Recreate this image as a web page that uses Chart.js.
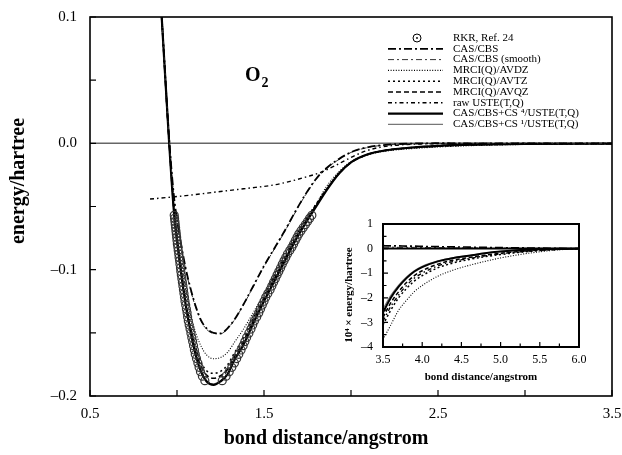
<!DOCTYPE html>
<html>
<head>
<meta charset="utf-8">
<script src="https://cdn.jsdelivr.net/npm/chart.js@4.4.0/dist/chart.umd.min.js"></script>
<style>
  html, body { margin: 0; padding: 0; background: #fff; }
  #wrap { position: relative; width: 622px; height: 455px; }
  #main { position: absolute; left: 0; top: 0; }
  #inset { position: absolute; left: 330px; top: 212px; }
</style>
</head>
<body>
<div id="wrap">
  <canvas id="main" width="622" height="455"></canvas>
  <canvas id="inset" width="260" height="175"></canvas>
</div>
<script>
// RKR turning points (hartree / angstrom)
const rkrEnergy = [-0.1879, -0.1843, -0.1808, -0.1773, -0.1738, -0.1704, -0.1670, -0.1636, -0.1602, -0.1569, -0.1536, -0.1503, -0.1470, -0.1438, -0.1406, -0.1374, -0.1342, -0.1311, -0.1280, -0.1250, -0.1219, -0.1189, -0.1159, -0.1130, -0.1100, -0.1072, -0.1043, -0.1015, -0.0986, -0.0958, -0.0930, -0.0903, -0.0876, -0.0849, -0.0822, -0.0796, -0.0770, -0.0744, -0.0718, -0.0693, -0.0668, -0.0643, -0.0618, -0.0594, -0.0570];
const rkrInner = [1.16, 1.146, 1.135, 1.127, 1.12, 1.112, 1.105, 1.10, 1.095, 1.09, 1.085, 1.08, 1.075, 1.07, 1.065, 1.061, 1.058, 1.054, 1.05, 1.046, 1.043, 1.04, 1.037, 1.034, 1.031, 1.028, 1.025, 1.022, 1.02, 1.017, 1.015, 1.012, 1.01, 1.007, 1.005, 1.002, 1.0, 0.998, 0.996, 0.994, 0.992, 0.99, 0.988, 0.986, 0.984];
const rkrOuter = [1.26, 1.282, 1.30, 1.315, 1.33, 1.343, 1.355, 1.368, 1.38, 1.39, 1.40, 1.413, 1.425, 1.435, 1.445, 1.458, 1.47, 1.48, 1.49, 1.50, 1.51, 1.522, 1.535, 1.545, 1.555, 1.565, 1.575, 1.585, 1.595, 1.605, 1.615, 1.625, 1.635, 1.648, 1.66, 1.67, 1.68, 1.69, 1.70, 1.712, 1.725, 1.738, 1.75, 1.762, 1.775];

// bond distances for the potential curves
const bondX = [0.90, 0.912, 0.955, 0.984, 1.00, 1.02, 1.05, 1.08, 1.11, 1.14, 1.17, 1.21, 1.25, 1.29, 1.33, 1.38, 1.44, 1.50, 1.56, 1.62, 1.68, 1.74, 1.80, 1.86, 1.93, 2.00, 2.10, 2.20, 2.35, 2.50, 2.70, 3.00, 3.50];

const casCbs = [0.125, 0.100, 0.003, -0.044, -0.060, -0.077, -0.099, -0.116, -0.130, -0.1405, -0.1465, -0.150, -0.1505, -0.1465, -0.1395, -0.128, -0.1125, -0.097, -0.083, -0.069, -0.054, -0.040, -0.028, -0.0195, -0.0125, -0.0070, -0.0030, -0.0012, -0.0002, 0.00005, 0.00003, 0.00002, 0.00001];
const casCbsSmooth = [0.125, 0.100, 0.003, -0.045, -0.061, -0.078, -0.100, -0.117, -0.131, -0.1412, -0.1472, -0.1505, -0.1508, -0.1468, -0.1398, -0.1284, -0.1130, -0.0976, -0.0836, -0.0696, -0.0546, -0.0405, -0.0285, -0.0199, -0.0128, -0.0072, -0.0032, -0.0013, -0.0003, 0.00003, 0.00002, 0.00001, 0.00001];
const mrciAvdz = [0.125, 0.100, 0.002, -0.053, -0.072, -0.091, -0.116, -0.1365, -0.151, -0.161, -0.1675, -0.1705, -0.1695, -0.1655, -0.1575, -0.1475, -0.1335, -0.119, -0.1035, -0.088, -0.0735, -0.060, -0.048, -0.034, -0.0225, -0.0145, -0.0090, -0.0062, -0.0042, -0.0029, -0.0018, -0.0009, -0.00037];
const mrciAvtz = [0.125, 0.100, 0.001, -0.055, -0.075, -0.096, -0.124, -0.146, -0.163, -0.174, -0.1800, -0.1820, -0.1805, -0.1755, -0.166, -0.1545, -0.1375, -0.121, -0.1055, -0.0895, -0.0740, -0.0605, -0.0480, -0.0360, -0.0240, -0.0152, -0.0088, -0.0057, -0.0035, -0.0023, -0.0013, -0.0006, -0.00031];
const mrciAvqz = [0.125, 0.100, 0.000, -0.056, -0.076, -0.098, -0.127, -0.149, -0.166, -0.177, -0.1835, -0.1860, -0.1840, -0.179, -0.1690, -0.1575, -0.1395, -0.1230, -0.1070, -0.0910, -0.0755, -0.0618, -0.0490, -0.0365, -0.0240, -0.0152, -0.0087, -0.0056, -0.0034, -0.0021, -0.0012, -0.0005, -0.00028];
const csUste4 = [0.125, 0.100, 0.000, -0.057, -0.077, -0.099, -0.128, -0.1505, -0.169, -0.1815, -0.1885, -0.1912, -0.1885, -0.183, -0.1715, -0.160, -0.142, -0.125, -0.109, -0.093, -0.077, -0.063, -0.050, -0.037, -0.024, -0.015, -0.0085, -0.0055, -0.0033, -0.0020, -0.0011, -0.0005, -0.00026];
const csUste1 = [0.125, 0.100, 0.001, -0.056, -0.076, -0.098, -0.127, -0.1495, -0.168, -0.1805, -0.1878, -0.1905, -0.1880, -0.1825, -0.171, -0.1595, -0.1415, -0.1245, -0.1085, -0.0925, -0.0767, -0.0627, -0.0497, -0.0368, -0.0238, -0.0149, -0.0084, -0.0054, -0.0032, -0.0019, -0.0010, -0.0005, -0.00025];

const usteX = [0.845, 0.95, 1.05, 1.15, 1.25, 1.35, 1.45, 1.55, 1.65, 1.75, 1.82, 1.90, 2.00, 2.07, 2.15, 2.25, 2.40, 2.70, 3.00, 3.50];
const rawUste = [-0.0441, -0.0428, -0.0414, -0.0398, -0.0381, -0.0365, -0.0349, -0.0331, -0.0301, -0.0263, -0.0233, -0.0183, -0.0112, -0.0068, -0.0036, -0.0016, -0.0005, -0.0001, -0.00005, -0.00003];

// inset: long range, 10^4 x energy
const insetX = [3.5, 3.6, 3.7, 3.8, 3.9, 4.0, 4.2, 4.4, 4.6, 4.8, 5.0, 5.25, 5.5, 5.75, 6.0];
const insetCas = [0.12, 0.11, 0.11, 0.10, 0.10, 0.09, 0.08, 0.07, 0.06, 0.05, 0.04, 0.03, 0.02, 0.01, 0];
const insetCasSmooth = [0.06, 0.06, 0.05, 0.05, 0.05, 0.04, 0.04, 0.03, 0.03, 0.02, 0.02, 0.01, 0.01, 0.0, 0];
const insetAvdz = [-3.7, -3.1, -2.5, -2.1, -1.75, -1.5, -1.12, -0.87, -0.68, -0.52, -0.38, -0.24, -0.13, -0.05, 0];
const insetAvtz = [-3.1, -2.5, -2.0, -1.62, -1.32, -1.1, -0.78, -0.58, -0.44, -0.33, -0.24, -0.15, -0.08, -0.03, 0];
const insetAvqz = [-2.8, -2.2, -1.75, -1.38, -1.1, -0.9, -0.63, -0.47, -0.36, -0.27, -0.19, -0.12, -0.06, -0.025, 0];
const insetUste = [-2.95, -2.35, -1.88, -1.5, -1.2, -1.0, -0.7, -0.52, -0.4, -0.3, -0.21, -0.13, -0.07, -0.03, 0];
const insetCs4 = [-2.6, -2.0, -1.55, -1.2, -0.93, -0.75, -0.52, -0.38, -0.29, -0.19, -0.12, -0.06, -0.03, -0.01, 0];
const insetCs1 = [-2.45, -1.9, -1.48, -1.15, -0.9, -0.72, -0.5, -0.36, -0.27, -0.18, -0.11, -0.055, -0.028, -0.01, 0];

const labels = ["RKR, Ref. 24", "CAS/CBS", "CAS/CBS (smooth)", "MRCI(Q)/AVDZ", "MRCI(Q)/AVTZ", "MRCI(Q)/AVQZ", "raw USTE(T,Q)", "CAS/CBS+CS \u2074/USTE(T,Q)", "CAS/CBS+CS \u00b9/USTE(T,Q)"];

const pts = (xs, ys) => xs.map((x, i) => ({ x: x, y: ys[i] }));
const rkrPoints = rkrEnergy.flatMap((e, i) => [{ x: rkrInner[i], y: e }, { x: rkrOuter[i], y: e }]);

const SERIF = "'Liberation Serif', 'Times New Roman', serif";
Chart.defaults.font.family = SERIF;
Chart.defaults.color = "#000";

const lineStyle = (label, data, width, dash, color) => ({
  label: label,
  data: data,
  showLine: true,
  borderColor: color || "#000",
  borderWidth: width,
  borderDash: dash,
  pointRadius: 0,
  cubicInterpolationMode: "monotone",
  fill: false,
});

const mainDatasets = [
  {
    label: labels[0],
    data: rkrPoints,
    showLine: false,
    pointRadius: 4,
    pointBorderWidth: 1.2,
    pointBorderColor: "#333",
    pointBackgroundColor: "rgba(0,0,0,0)",
  },
  lineStyle(labels[1], pts(bondX, casCbs), 1.8, [8, 3, 2, 3]),
  lineStyle(labels[2], pts(bondX, casCbsSmooth), 1, [6, 3, 2, 3], "#333"),
  lineStyle(labels[3], pts(bondX, mrciAvdz), 1.1, [1, 1.6]),
  lineStyle(labels[4], pts(bondX, mrciAvtz), 1.6, [2, 3]),
  lineStyle(labels[5], pts(bondX, mrciAvqz), 1.6, [5, 3]),
  lineStyle(labels[6], pts(usteX, rawUste), 1.4, [4, 3, 1.5, 3]),
  lineStyle(labels[7], pts(bondX, csUste4), 2.2, []),
  lineStyle(labels[8], pts(bondX, csUste1), 1.2, [], "#777"),
];

const insetDatasets = [
  lineStyle(labels[1], pts(insetX, insetCas), 1.6, [8, 3, 2, 3]),
  lineStyle(labels[2], pts(insetX, insetCasSmooth), 1, [6, 3, 2, 3], "#333"),
  lineStyle(labels[3], pts(insetX, insetAvdz), 1.1, [1, 1.6]),
  lineStyle(labels[4], pts(insetX, insetAvtz), 1.5, [2, 2.5]),
  lineStyle(labels[5], pts(insetX, insetAvqz), 1.5, [4, 2.5]),
  lineStyle(labels[6], pts(insetX, insetUste), 1.3, [4, 3, 1.5, 3]),
  lineStyle(labels[7], pts(insetX, insetCs4), 2, []),
  lineStyle(labels[8], pts(insetX, insetCs1), 1.1, [], "#777"),
];

const near = (v, step) => Math.abs(v / step - Math.round(v / step)) < 1e-6;
const fmt = (v, d) => v.toFixed(d).replace("-", "\u2013");

const drawTicks = (ctx, a, x, y, len, xMajorStep, yMajorStep) => {
  ctx.beginPath();
  y.ticks.forEach((t) => {
    const p = y.getPixelForValue(t.value);
    const l = near(t.value, yMajorStep) ? len : len * 0.7;
    ctx.moveTo(a.left, p);
    ctx.lineTo(a.left + l, p);
  });
  x.ticks.forEach((t) => {
    const p = x.getPixelForValue(t.value);
    const l = near(t.value - 0.5, xMajorStep) ? len : len * 0.7;
    ctx.moveTo(p, a.bottom);
    ctx.lineTo(p, a.bottom - l);
  });
  ctx.stroke();
};

const mainDecor = {
  id: "mainDecor",
  beforeDatasetsDraw(chart) {
    const { ctx, chartArea: a, scales } = chart;
    const y0 = scales.y.getPixelForValue(0);
    ctx.save();
    ctx.strokeStyle = "#666";
    ctx.lineWidth = 1.5;
    ctx.beginPath();
    ctx.moveTo(a.left, y0);
    ctx.lineTo(a.right, y0);
    ctx.stroke();
    ctx.restore();
  },
  afterDraw(chart) {
    const { ctx, chartArea: a, scales } = chart;
    ctx.save();
    ctx.strokeStyle = "#000";
    ctx.lineWidth = 1.6;
    ctx.strokeRect(a.left, a.top, a.right - a.left, a.bottom - a.top);
    ctx.lineWidth = 1.2;
    drawTicks(ctx, a, scales.x, scales.y, 6, 0.5, 0.05);

    // axis titles
    ctx.fillStyle = "#000";
    ctx.font = "bold 20px " + SERIF;
    ctx.textAlign = "center";
    ctx.textBaseline = "middle";
    ctx.fillText("bond distance/angstrom", 326, 439);
    ctx.save();
    ctx.translate(19, 181);
    ctx.rotate(-Math.PI / 2);
    ctx.fillText("energy/hartree", 0, 0);
    ctx.restore();

    // molecule label
    ctx.textAlign = "left";
    ctx.textBaseline = "alphabetic";
    ctx.font = "bold 20px " + SERIF;
    ctx.fillText("O", 245, 81);
    const ow = ctx.measureText("O").width;
    ctx.font = "bold 14px " + SERIF;
    ctx.fillText("2", 245 + ow + 1, 87);

    // legend
    ctx.font = "11px " + SERIF;
    ctx.textBaseline = "middle";
    chart.data.datasets.forEach((ds, i) => {
      const ly = 38 + i * 10.8;
      if (ds.showLine === false) {
        ctx.setLineDash([]);
        ctx.lineWidth = 1;
        ctx.beginPath();
        ctx.arc(417, ly, 4, 0, Math.PI * 2);
        ctx.stroke();
        ctx.beginPath();
        ctx.arc(417, ly, 0.9, 0, Math.PI * 2);
        ctx.fill();
      } else {
        ctx.strokeStyle = ds.borderColor;
        ctx.lineWidth = ds.borderWidth;
        ctx.setLineDash(ds.borderDash);
        ctx.beginPath();
        ctx.moveTo(388, ly);
        ctx.lineTo(443, ly);
        ctx.stroke();
        ctx.setLineDash([]);
        ctx.strokeStyle = "#000";
      }
      ctx.fillText(ds.label, 453, ly);
    });
    ctx.restore();
  },
};

const insetDecor = {
  id: "insetDecor",
  afterDraw(chart) {
    const { ctx, chartArea: a, scales } = chart;
    ctx.save();
    ctx.strokeStyle = "#000";
    ctx.lineWidth = 2;
    const y0 = scales.y.getPixelForValue(0);
    ctx.beginPath();
    ctx.moveTo(a.left, y0);
    ctx.lineTo(a.right, y0);
    ctx.stroke();
    ctx.strokeRect(a.left, a.top, a.right - a.left, a.bottom - a.top);
    ctx.lineWidth = 1.2;
    drawTicks(ctx, a, scales.x, scales.y, 5, 0.5, 1);

    ctx.fillStyle = "#000";
    ctx.font = "bold 11px " + SERIF;
    ctx.textAlign = "center";
    ctx.textBaseline = "middle";
    ctx.fillText("bond distance/angstrom", (a.left + a.right) / 2, 165);
    ctx.save();
    ctx.translate(19, 83);
    ctx.rotate(-Math.PI / 2);
    ctx.fillText("10\u2074 \u00d7 energy/hartree", 0, 0);
    ctx.restore();
    ctx.restore();
  },
};

new Chart(document.getElementById("main"), {
  type: "scatter",
  data: { datasets: mainDatasets },
  options: {
    responsive: false,
    animation: false,
    layout: { padding: { top: 17, right: 10, left: 0, bottom: 0 } },
    scales: {
      x: {
        type: "linear",
        min: 0.5,
        max: 3.5,
        grid: { display: false, drawTicks: false },
        border: { display: false },
        ticks: {
          stepSize: 0.5,
          autoSkip: false,
          maxRotation: 0,
          padding: 9,
          font: { size: 15 },
          callback: (v) => (near(v - 0.5, 1) ? fmt(v, 1) : ""),
        },
        afterFit: (s) => { s.height = 59; s.paddingLeft = 0; s.paddingRight = 0; },
      },
      y: {
        type: "linear",
        min: -0.2,
        max: 0.1,
        grid: { display: false, drawTicks: false },
        border: { display: false },
        ticks: {
          stepSize: 0.05,
          autoSkip: false,
          padding: 13,
          font: { size: 15 },
          callback: (v) => (near(v, 0.1) ? fmt(v, 1) : ""),
        },
        afterFit: (s) => { s.width = 90; s.paddingTop = 0; s.paddingBottom = 0; },
      },
    },
    plugins: {
      legend: { display: false },
      tooltip: { enabled: false },
    },
  },
  plugins: [mainDecor],
});

new Chart(document.getElementById("inset"), {
  type: "scatter",
  data: { datasets: insetDatasets },
  options: {
    responsive: false,
    animation: false,
    layout: { padding: { top: 12, right: 11, left: 0, bottom: 0 } },
    scales: {
      x: {
        type: "linear",
        min: 3.5,
        max: 6.0,
        grid: { display: false, drawTicks: false },
        border: { display: false },
        ticks: {
          stepSize: 0.25,
          autoSkip: false,
          maxRotation: 0,
          padding: 6,
          font: { size: 12 },
          callback: (v) => (near(v - 0.5, 0.5) ? fmt(v, 1) : ""),
        },
        afterFit: (s) => { s.height = 40; s.paddingLeft = 0; s.paddingRight = 0; },
      },
      y: {
        type: "linear",
        min: -4,
        max: 1,
        grid: { display: false, drawTicks: false },
        border: { display: false },
        ticks: {
          stepSize: 0.5,
          autoSkip: false,
          padding: 10,
          font: { size: 12 },
          callback: (v) => (near(v, 1) ? fmt(v, 0) : ""),
        },
        afterFit: (s) => { s.width = 53; s.paddingTop = 0; s.paddingBottom = 0; },
      },
    },
    plugins: {
      legend: { display: false },
      tooltip: { enabled: false },
    },
  },
  plugins: [insetDecor],
});
</script>
</body>
</html>
